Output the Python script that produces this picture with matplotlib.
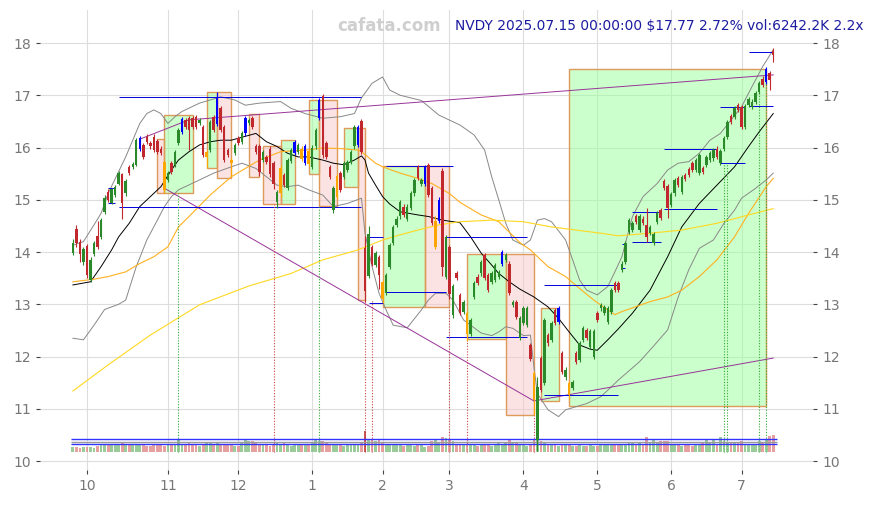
import matplotlib
matplotlib.use("Agg")
import matplotlib.pyplot as plt
from matplotlib.patches import Rectangle
import pandas as pd

# trading days shown (NYSE holidays removed)
holidays = ["2024-11-28", "2024-12-25", "2025-01-01", "2025-01-09", "2025-01-20",
            "2025-02-17", "2025-04-18", "2025-05-26", "2025-06-19", "2025-07-04"]
dates = pd.bdate_range("2024-09-25", "2025-07-15")
dates = dates[~dates.isin(pd.to_datetime(holidays))]

opens = [13.99, 14.45, 14.20, 13.81, 14.11, 13.46, 13.97, 14.31, 14.29, 14.77,
         15.15, 14.94, 15.09, 15.31, 15.49, 15.12, 15.62, 15.62, 15.67, 15.98,
         16.05, 16.21, 16.09, 16.21, 16.12, 15.98, 15.73, 15.38, 15.70, 15.67,
         16.08, 16.30, 16.53, 16.56, 16.56, 16.58, 16.47, 16.40, 15.82, 15.95,
         16.58, 16.45, 16.75, 16.40, 15.95, 15.77, 15.89, 16.18, 16.11, 16.27,
         16.47, 16.56, 16.02, 16.02, 15.76, 15.82, 15.98, 15.70, 14.96, 15.12,
         15.47, 15.22, 15.75, 15.90, 15.92, 15.98, 15.70, 15.94, 15.62, 16.02,
         16.56, 16.98, 16.08, 15.63, 14.80, 15.05, 15.51, 15.44, 15.57, 15.73,
         16.02, 16.05, 16.50, 14.07, 13.55, 14.10, 13.75, 13.91, 13.43, 13.21,
         13.72, 14.17, 14.52, 14.68, 14.87, 14.64, 14.84, 15.12, 15.63, 15.31,
         15.31, 15.67, 15.22, 14.10, 14.60, 15.55, 13.53, 14.10, 12.80, 13.59,
         13.18, 12.86, 12.83, 12.44, 13.14, 13.53, 13.59, 13.94, 13.56, 13.43,
         13.46, 13.53, 13.78, 13.85, 13.78, 12.99, 13.05, 12.35, 12.64, 12.60,
         12.22, 11.68, 10.40, 11.97, 11.49, 12.41, 12.32, 12.89, 12.67, 12.06,
         11.60, 11.49, 11.39, 12.06, 11.93, 12.32, 12.51, 12.19, 12.00, 12.83,
         12.92, 12.83, 12.67, 12.86, 13.40, 13.40, 13.65, 13.81, 14.39, 14.42,
         14.69, 14.42, 14.64, 14.52, 14.36, 14.17, 14.58, 14.80, 15.35, 15.26,
         14.90, 15.12, 15.41, 15.15, 15.47, 15.58, 15.70, 15.57, 15.51, 15.60,
         15.67, 15.76, 15.79, 15.98, 15.70, 15.98, 16.21, 16.60, 16.59, 16.81,
         16.78, 16.40, 16.81, 16.78, 16.88, 17.07, 17.32, 17.26, 17.43, 17.85]
closes = [14.18, 14.17, 13.97, 14.05, 13.56, 13.85, 14.18, 14.10, 14.61, 15.03,
          14.99, 15.20, 15.25, 15.51, 14.93, 15.36, 15.51, 15.68, 16.14, 16.18,
          15.82, 16.11, 16.02, 15.95, 15.92, 15.89, 15.19, 15.51, 15.54, 15.92,
          16.33, 16.54, 16.40, 16.33, 16.40, 16.40, 16.53, 15.86, 15.92, 16.49,
          16.33, 16.95, 16.33, 15.76, 15.86, 15.70, 16.05, 16.08, 16.27, 16.56,
          16.53, 16.40, 15.92, 15.54, 15.92, 15.73, 15.50, 15.31, 15.15, 15.60,
          15.28, 15.76, 15.95, 16.10, 16.05, 15.78, 16.02, 15.68, 16.00, 16.33,
          16.90, 15.85, 15.82, 15.44, 15.22, 15.45, 15.19, 15.70, 15.73, 15.92,
          16.40, 16.40, 15.92, 13.25, 14.35, 13.78, 13.98, 13.56, 13.10, 13.56,
          14.13, 14.48, 14.64, 14.96, 14.71, 14.87, 15.12, 15.38, 15.41, 15.38,
          15.63, 15.09, 14.55, 14.60, 15.00, 13.72, 14.29, 13.20, 13.35, 13.50,
          12.83, 13.05, 12.44, 12.70, 13.40, 13.40, 13.81, 13.50, 13.27, 13.59,
          13.75, 13.62, 14.00, 13.94, 13.21, 13.05, 12.76, 12.73, 12.92, 12.92,
          11.95, 11.17, 11.42, 11.36, 12.70, 12.25, 12.64, 12.64, 12.92, 11.71,
          11.75, 11.26, 11.52, 11.90, 12.25, 12.54, 12.35, 12.48, 12.48, 12.70,
          12.99, 12.95, 12.92, 13.27, 13.27, 13.27, 13.78, 14.17, 14.61, 14.55,
          14.58, 14.69, 14.55, 14.29, 14.47, 14.34, 14.75, 14.66, 15.22, 14.84,
          15.11, 15.38, 15.28, 15.44, 15.39, 15.47, 15.57, 15.76, 15.86, 15.54,
          15.82, 15.89, 15.95, 15.82, 15.94, 16.18, 16.49, 16.49, 16.75, 16.72,
          16.40, 16.79, 16.92, 16.88, 17.04, 17.23, 17.20, 17.50, 17.30, 17.77]
highs = [14.25, 14.52, 14.25, 14.10, 14.15, 13.90, 14.22, 14.60, 14.66, 15.10,
         15.20, 15.23, 15.29, 15.56, 15.52, 15.40, 15.66, 15.72, 16.18, 16.22,
         16.09, 16.26, 16.13, 16.25, 16.16, 16.02, 15.76, 15.55, 15.74, 15.96,
         16.37, 16.58, 16.57, 16.60, 16.60, 16.62, 16.57, 16.44, 15.96, 16.53,
         16.62, 17.07, 16.80, 16.44, 15.99, 15.80, 16.09, 16.22, 16.31, 16.60,
         16.57, 16.60, 16.06, 16.06, 15.96, 15.86, 16.02, 15.74, 15.19, 15.67,
         15.51, 15.80, 15.99, 16.14, 16.09, 16.02, 16.06, 15.98, 16.04, 16.37,
         16.94, 17.02, 16.12, 15.67, 15.26, 15.49, 15.55, 15.74, 15.77, 15.96,
         16.44, 16.44, 16.55, 14.30, 14.50, 14.14, 14.02, 13.95, 13.47, 13.60,
         14.17, 14.52, 14.68, 15.00, 14.91, 14.91, 15.16, 15.42, 15.67, 15.42,
         15.67, 15.71, 15.26, 14.68, 15.06, 15.60, 14.33, 14.14, 13.39, 13.63,
         13.22, 13.09, 12.87, 12.74, 13.44, 13.57, 13.85, 13.98, 13.60, 13.63,
         13.79, 13.66, 14.04, 13.98, 13.82, 13.09, 13.09, 12.77, 12.96, 12.96,
         12.26, 11.72, 11.60, 12.01, 12.74, 12.45, 12.68, 12.93, 12.96, 12.10,
         11.79, 11.53, 11.56, 12.10, 12.29, 12.58, 12.55, 12.52, 12.52, 12.87,
         13.03, 12.99, 12.96, 13.31, 13.44, 13.44, 13.82, 14.21, 14.65, 14.59,
         14.73, 14.73, 14.68, 14.85, 14.51, 14.38, 14.79, 14.84, 15.39, 15.30,
         15.15, 15.42, 15.45, 15.48, 15.51, 15.62, 15.74, 15.80, 15.90, 15.64,
         15.86, 15.93, 15.99, 16.02, 15.98, 16.22, 16.53, 16.64, 16.79, 16.85,
         16.82, 16.83, 16.96, 16.92, 17.08, 17.27, 17.36, 17.54, 17.47, 17.90]
lows = [13.95, 14.10, 13.80, 13.76, 13.50, 13.42, 13.93, 14.05, 14.25, 14.72,
        14.95, 14.92, 15.05, 15.28, 14.63, 15.08, 15.47, 15.58, 15.64, 15.94,
        15.78, 16.07, 15.98, 15.91, 15.88, 15.85, 15.12, 15.34, 15.50, 15.63,
        16.04, 16.26, 16.36, 15.95, 16.36, 16.36, 16.43, 15.82, 15.60, 15.91,
        16.29, 16.41, 16.29, 15.72, 15.82, 15.45, 15.85, 16.04, 16.07, 16.23,
        16.43, 16.36, 15.88, 15.45, 15.72, 15.69, 15.44, 15.20, 14.85, 15.05,
        15.24, 15.18, 15.70, 15.86, 15.88, 15.74, 15.66, 15.64, 15.58, 15.98,
        16.52, 15.80, 15.78, 15.40, 14.75, 15.01, 15.15, 15.40, 15.53, 15.69,
        15.98, 16.01, 15.88, 13.05, 13.50, 13.74, 13.71, 13.30, 13.02, 13.17,
        13.68, 14.13, 14.48, 14.64, 14.67, 14.60, 14.80, 15.08, 15.37, 15.27,
        15.27, 15.05, 14.51, 14.06, 14.56, 13.55, 13.49, 13.11, 12.73, 13.46,
        12.79, 12.82, 12.30, 12.40, 13.10, 13.36, 13.55, 13.46, 13.23, 13.39,
        13.42, 13.49, 13.74, 13.81, 13.17, 12.95, 12.72, 12.31, 12.60, 12.56,
        11.91, 10.88, 10.20, 11.32, 11.45, 12.21, 12.28, 12.60, 12.63, 11.67,
        11.56, 11.17, 11.35, 11.86, 11.89, 12.28, 12.31, 12.15, 11.96, 12.66,
        12.88, 12.79, 12.63, 12.82, 13.23, 13.23, 13.61, 13.77, 14.35, 14.38,
        14.54, 14.38, 14.51, 14.20, 14.32, 14.13, 14.54, 14.62, 15.18, 14.65,
        14.86, 15.08, 15.24, 15.11, 15.35, 15.43, 15.53, 15.53, 15.47, 15.50,
        15.63, 15.72, 15.75, 15.78, 15.66, 15.94, 16.17, 16.45, 16.55, 16.68,
        16.36, 16.36, 16.77, 16.74, 16.84, 17.03, 17.16, 17.22, 17.10, 17.64]
volumes = [1600, 1900, 1500, 1700, 1600, 1800, 1500, 2200, 2600, 2800,
           2600, 2900, 2700, 2500, 3100, 2600, 2300, 2400, 2500, 2700,
           2300, 2200, 2000, 2400, 2600, 2500, 2200, 2300, 2600, 2800,
           4400, 3000, 2800, 3300, 3000, 2600, 2200, 2800, 3600, 3200,
           2800, 3500, 3000, 2600, 2500, 2300, 2000, 2200, 3200, 4400,
           3900, 3800, 3600, 3000, 2800, 2300, 2200, 2500, 3500, 2900,
           3200, 2600, 2200, 2400, 2600, 2800, 2500, 2300, 3300, 4600,
           4000, 4000, 3200, 2600, 2900, 2500, 2300, 2000, 2500, 2600,
           2500, 3000, 3200, 7700, 4700, 4500, 4000, 4300, 3500, 3000,
           3000, 2700, 2600, 2500, 2200, 2600, 2500, 2100, 2300, 2500,
           1800, 2000, 4000, 4400, 3600, 5600, 4900, 4400, 4000, 3000,
           2900, 2700, 2900, 2500, 2300, 2200, 2500, 2300, 2400, 2200,
           2600, 3600, 2800, 3100, 4400, 3100, 3600, 2700, 2300, 2200,
           2500, 4400, 5000, 3800, 3600, 2600, 2300, 2500, 2200, 2800,
           2500, 2300, 2200, 2000, 2400, 2100, 2000, 2300, 2200, 2000,
           2300, 2500, 2600, 2500, 2300, 2600, 2700, 2800, 3100, 3100,
           2900, 3100, 2700, 5600, 3100, 4600, 3600, 3800, 3800, 4000,
           2500, 2300, 2300, 2200, 2400, 2300, 2200, 2300, 2500, 3100,
           4400, 3600, 4400, 2800, 5600, 4000, 3600, 3100, 3100, 3100,
           4000, 2800, 2700, 2700, 2800, 4000, 3400, 4600, 6000, 6242.2]
blue_days = [19, 31, 41, 49, 63, 66, 70, 81, 100, 104, 122, 138, 197]
orange_days = [26, 38, 45, 59, 65, 67, 75, 88, 103, 112, 131, 141]
vol_levels = [2840, 3710, 4880]

# moving averages / bands, read at sample days
mid_days = [0, 5, 8, 11, 13, 16, 19, 22, 25, 28, 30, 33, 36, 39, 42, 45, 52, 55, 58, 61,
            64, 67, 71, 74, 77, 80, 82, 83, 84, 86, 88, 90, 93, 98, 101, 105, 110, 113, 116,
            119, 121, 124, 127, 131, 135, 138, 141, 144, 147, 149, 152, 155, 159, 164, 169,
            173, 178, 183, 188, 192, 195, 199]
mid_vals = [13.37, 13.43, 13.72, 14.04, 14.29, 14.55, 14.87, 15.06, 15.25, 15.57, 15.76,
            15.92, 16.05, 16.11, 16.14, 16.14, 16.27, 16.11, 16.02, 15.89, 15.82, 15.82,
            15.76, 15.70, 15.67, 15.76, 15.84, 15.76, 15.51, 15.28, 15.06, 14.92, 14.77,
            14.71, 14.68, 14.61, 14.56, 14.29, 13.98, 13.75, 13.59, 13.43, 13.29, 13.14,
            12.95, 12.73, 12.47, 12.22, 12.14, 12.12, 12.32, 12.53, 12.83, 13.27, 13.91,
            14.48, 14.93, 15.28, 15.63, 16.02, 16.30, 16.65]
up_days = [0, 3, 6, 8, 10, 13, 15, 17, 19, 21, 23, 25, 27, 29, 31, 36, 42, 46, 49, 53,
           59, 62, 66, 71, 76, 80, 82, 85, 88, 90, 93, 99, 104, 110, 114, 117, 119, 121,
           123, 125, 128, 130, 132, 134, 136, 140, 142, 144, 146, 149, 152, 154, 156, 159,
           162, 166, 169, 172, 175, 178, 181, 184, 190, 193, 196, 199]
up_vals = [14.13, 14.20, 14.52, 14.74, 15.12, 15.54, 15.82, 16.14, 16.46, 16.65, 16.72,
           16.65, 16.46, 16.59, 16.69, 16.85, 16.97, 16.91, 16.81, 16.85, 16.88, 16.75,
           16.65, 16.56, 16.59, 16.65, 16.95, 17.23, 17.35, 17.10, 17.00, 16.90, 16.62,
           16.43, 16.24, 15.95, 15.44, 15.00, 14.55, 14.23, 14.13, 14.23, 14.61, 14.64,
           14.58, 14.23, 13.85, 13.46, 13.27, 13.18, 13.34, 13.62, 13.91, 14.68, 15.06,
           15.31, 15.57, 15.70, 15.73, 15.89, 16.14, 16.27, 16.78, 17.17, 17.55, 17.87]
low_days = [0, 3, 6, 9, 13, 15, 18, 21, 24, 26, 28, 30, 36, 40, 45, 48, 52, 55, 58, 61,
            64, 67, 71, 74, 78, 82, 83, 85, 87, 89, 91, 95, 99, 101, 103, 106, 108, 111,
            116, 119, 121, 123, 125, 128, 130, 131, 132, 135, 138, 140, 143, 146, 150, 153,
            155, 161, 165, 169, 172, 175, 178, 182, 185, 188, 190, 194, 197, 199]
low_vals = [12.35, 12.32, 12.60, 12.90, 13.00, 13.08, 13.72, 14.23, 14.61, 14.87, 15.06,
            15.19, 15.38, 15.51, 15.63, 15.70, 15.60, 15.44, 15.28, 15.25, 15.28, 15.19,
            15.09, 14.87, 14.93, 15.03, 14.36, 13.72, 13.21, 12.89, 12.60, 12.55, 12.89,
            13.08, 13.21, 13.21, 13.08, 12.70, 12.45, 12.40, 12.47, 12.57, 12.54, 12.40,
            12.41, 11.80, 11.29, 10.98, 10.85, 10.98, 11.04, 11.10, 11.23, 11.42, 11.55,
            11.90, 12.20, 12.51, 13.14, 13.66, 14.07, 14.23, 14.55, 14.80, 15.03, 15.22,
            15.38, 15.51]
ma60_days = [0, 6, 10, 15, 19, 23, 27, 30, 33, 39, 45, 53, 59, 66, 71, 76, 81, 82, 86, 88,
             93, 98, 102, 107, 110, 116, 121, 127, 130, 135, 140, 144, 148, 152, 154, 156,
             164, 169, 173, 178, 183, 188, 192, 197, 199]
ma60_vals = [13.43, 13.48, 13.53, 13.62, 13.78, 13.91, 14.10, 14.48, 14.68, 15.09, 15.44,
             15.76, 15.92, 15.95, 15.99, 15.98, 15.95, 15.92, 15.70, 15.63, 15.51, 15.41,
             15.31, 15.12, 14.95, 14.71, 14.58, 14.18, 14.04, 13.72, 13.53, 13.30, 13.08,
             12.89, 12.80, 12.86, 13.05, 13.14, 13.27, 13.53, 13.85, 14.29, 14.74, 15.25,
             15.41]
ma120_days = [0, 10, 22, 36, 50, 62, 71, 81, 88, 93, 98, 104, 110, 119, 128, 136, 150,
              155, 164, 173, 183, 192, 199]
ma120_vals = [11.34, 11.84, 12.41, 12.99, 13.35, 13.59, 13.85, 14.04, 14.23, 14.33, 14.42,
              14.52, 14.58, 14.61, 14.58, 14.48, 14.36, 14.31, 14.36, 14.42, 14.55, 14.71,
              14.83]

# trend boxes: first day, last day, bottom, top, kind
box_start = [24, 26, 38, 41, 50, 54, 59, 67, 70, 77, 81, 88, 100, 112, 123, 133, 141]
box_end = [26, 34, 41, 45, 53, 59, 63, 70, 75, 81, 83, 100, 107, 123, 131, 138, 197]
box_low = [15.12, 15.12, 15.60, 15.41, 15.43, 14.92, 14.92, 15.49, 14.88, 15.25, 13.08,
           12.95, 12.95, 12.33, 10.88, 11.14, 11.05]
box_high = [16.16, 16.62, 17.06, 17.06, 16.65, 16.03, 16.14, 16.91, 16.91, 16.38, 16.38,
            15.65, 15.65, 13.96, 13.96, 12.92, 17.50]
box_kind = ["dn", "up", "up", "dn", "dn", "dn", "up", "up", "dn", "up", "dn",
            "up", "dn", "up", "dn", "up", "up"]

# support / resistance segments
seg_start = [10, 10, 13, 13, 84, 84, 89, 89, 106, 106, 134, 134, 156, 156, 159, 159,
             168, 168, 184, 184, 192, 192]
seg_end = [12, 12, 82, 82, 88, 88, 108, 106, 129, 129, 155, 155, 157, 157, 167, 167,
           183, 183, 191, 191, 199, 199]
seg_val = [15.22, 14.93, 16.97, 14.86, 14.29, 13.02, 15.65, 13.24, 14.28, 12.37, 13.37,
           11.26, 14.15, 13.69, 14.77, 14.19, 15.97, 14.83, 16.77, 15.70, 17.82, 16.80]

# trend lines
trend_lines = [([19, 33, 199], [16.16, 16.53, 17.39]),
               ([26, 131], [15.22, 11.15]),
               ([131, 199], [11.15, 11.97])]

# signal days (dotted verticals)
sig_days = [30, 57, 70, 83, 85, 107, 112, 131, 185, 186, 195, 197]
sig_top = [15.12, 14.92, 14.87, 13.08, 13.08, 12.95, 12.33, 10.88, 15.70, 15.70, 17.07, 17.26]
sig_kind = ["up", "dn", "up", "dn", "dn", "dn", "dn", "dn", "up", "up", "up", "up"]

GREEN = "#2a8a2a"
RED = "#c0282d"

fig = plt.figure(figsize=(8.74, 5.05), dpi=100)
ax = fig.add_axes([40 / 874, 35 / 505, 773 / 874, 460 / 505])

x = list(range(len(dates)))

# boxes
for a, b, lo, hi, k in zip(box_start, box_end, box_low, box_high, box_kind):
    fc = "#99ff99" if k == "up" else "#f8c8c8"
    ax.add_patch(Rectangle((a, lo), b - a, hi - lo, facecolor=fc, alpha=0.5,
                           edgecolor="none", zorder=1))
    ax.add_patch(Rectangle((a, lo), b - a, hi - lo, facecolor="none",
                           edgecolor="#dd9a5a", lw=1.0, zorder=1.5))

# bands and averages
ax.plot(up_days, up_vals, color="#888888", lw=0.7, zorder=2)
ax.plot(low_days, low_vals, color="#888888", lw=0.7, zorder=2)
ax.plot(mid_days, mid_vals, color="black", lw=0.7, zorder=2)
ax.plot(ma60_days, ma60_vals, color="#ffb020", lw=0.8, zorder=2)
ax.plot(ma120_days, ma120_vals, color="#ffd820", lw=0.8, zorder=2)

# trend lines
for xs, ys in trend_lines:
    ax.plot(xs, ys, color="#993399", lw=0.7, zorder=2.5)

# support / resistance
for a, b, v in zip(seg_start, seg_end, seg_val):
    ax.hlines(v, a, b, color="#0000dd", lw=0.7, zorder=2.6)

# candles
cols = []
for i in x:
    if i in blue_days:
        cols.append("#0000ff")
    elif i in orange_days:
        cols.append("#ffa500")
    elif closes[i] >= opens[i]:
        cols.append(GREEN)
    else:
        cols.append(RED)
body_lo = [min(o, c) for o, c in zip(opens, closes)]
body_h = [max(abs(c - o), 0.02) for o, c in zip(opens, closes)]
ax.vlines(x, lows, highs, colors=cols, lw=0.8, zorder=3)
ax.bar(x, body_h, bottom=body_lo, width=0.7, color=cols, zorder=3.1)

# signal verticals
base = 10.18
for d, t, k in zip(sig_days, sig_top, sig_kind):
    ax.vlines(d, base, t, colors="#33aa33" if k == "up" else "#cc4444",
              linestyles=(0, (1, 1.5)), lw=0.8, zorder=2.7)

# volume at the bottom
vscale = 0.32 / volumes[-1]
vcols = ["#80c080" if c >= o else "#e08888" for o, c in zip(opens, closes)]
vcols[83] = "#c03030"
ax.bar(x, [v * vscale for v in volumes], bottom=base, width=0.8, color=vcols,
       alpha=0.8, zorder=2.8)
for lvl, c in zip(vol_levels, ["#3333ff", "#999999", "#3333ff"]):
    ax.hlines(base + lvl * vscale, -0.5, len(x), color=c, lw=1.0, zorder=2.9)

ax.set_xlim(-9.35, 210.3)
ax.set_ylim(9.828, 18.632)

# month ticks at first trading day of each month
mt = [i for i in range(1, len(dates)) if dates[i].month != dates[i - 1].month]
ax.set_xticks(mt)
ax.set_xticklabels([str(dates[i].month) for i in mt])
ax.set_yticks(range(10, 19))
ax.tick_params(axis="both", colors="#444444", labelcolor="#777777", labelsize=10,
               length=3, width=0.8)
ax.tick_params(axis="y", right=True, labelright=True)
ax.grid(True, color="#dddddd", lw=0.8, zorder=0)
ax.set_axisbelow(True)
for s in ax.spines.values():
    s.set_visible(False)

fig.text(389 / 874, 0.9485, "cafata.com", color="#cfcfcf", fontsize=12, fontweight="bold",
         ha="center", va="center")
fig.text(455 / 874, 0.9485, "NVDY 2025.07.15 00:00:00 $17.77 2.72% vol:6242.2K 2.2x",
         color="#1c1ca0", fontsize=9.9, ha="left", va="center")

fig.savefig("out.png", dpi=100)
